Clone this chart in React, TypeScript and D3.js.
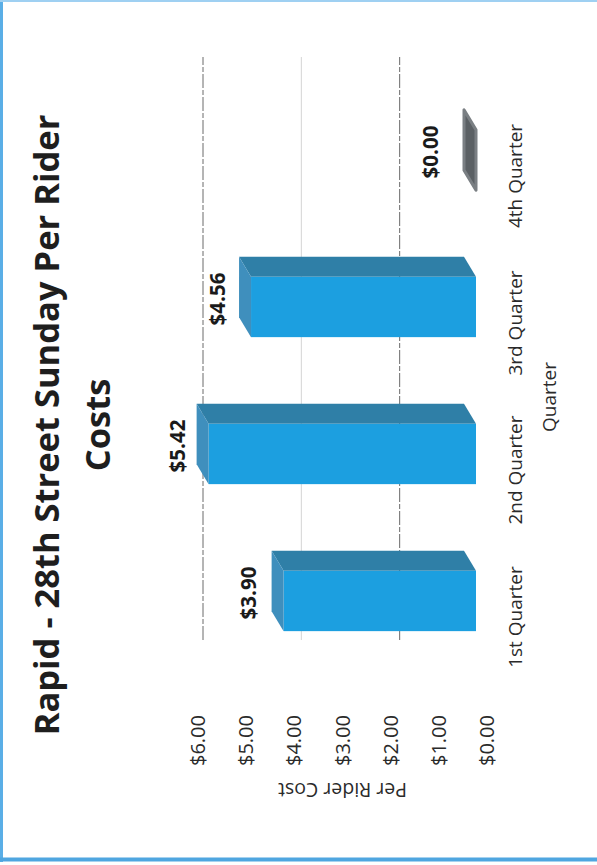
import React from "react";
import * as d3 from "d3";

const categories = ["1st Quarter", "2nd Quarter", "3rd Quarter", "4th Quarter"];
const values = [3.9, 5.42, 4.56, 0.0];
const yTicks = [0, 1, 2, 3, 4, 5, 6];
const gridValues = [2, 4, 6];
const titleLines = ["Rapid - 28th Street Sunday Per Rider", "Costs"];
const xAxisTitle = "Quarter";
const yAxisTitle = "Per Rider Cost";

const PAGE_W = 597;
const PAGE_H = 865;
// chart is drawn in its own (unrotated) frame: width = PAGE_H, height = PAGE_W
const FONT = "'Open Sans', 'DejaVu Sans', sans-serif";

export default function App() {
  const money = d3.format("$.2f");
  const yAxis = d3.scaleLinear().domain([0, 6]).range([487, 198]);
  const yBar = d3.scaleLinear().domain([0, 6]).range([476, 180]);
  const yGrid = d3.scaleLinear().domain([0, 6]).range([498, 203]);
  const yLabel = d3.scaleLinear().domain([0, 6]).range([438, 158]);
  const x = d3.scaleBand<string>().domain(categories).range([174.5, 762.5]).paddingInner(0.59).paddingOuter(0.295);
  const bw = x.bandwidth();
  const du = 20;
  const dv = -12;
  const shift = 16;

  return (
    <svg
      width={PAGE_W}
      height={PAGE_H}
      style={{ position: "absolute", left: 0, top: 0, background: "#fff" }}
    >
      <rect x={0} y={0} width={PAGE_W} height={PAGE_H} fill="#fff" />
      {/* page border */}
      <line x1={1.5} y1={0} x2={1.5} y2={862} stroke="#5aaee6" strokeWidth={3} />
      <line x1={0} y1={1} x2={PAGE_W} y2={1} stroke="#9fd0f2" strokeWidth={2} />
      <line x1={0} y1={859.5} x2={PAGE_W} y2={859.5} stroke="#4fa6e0" strokeWidth={4} />
      <g transform={`translate(0,${PAGE_H}) rotate(-90)`} fontFamily={FONT}>
        {/* title */}
        {titleLines.map((t, i) => (
          <text
            key={t}
            x={440}
            y={59 + i * 51}
            textAnchor="middle"
            fontWeight="bold"
            fontSize={34.5}
            fill="#1e1e1e"
          >
            {t}
          </text>
        ))}
        {/* gridlines (back wall) */}
        {gridValues.map((g) => (
          <line
            key={g}
            x1={225}
            x2={808}
            y1={yGrid(g)}
            y2={yGrid(g)}
            stroke={g === 4 ? "#d4d4d4" : "#6a6a6a"}
            strokeWidth={1}
            strokeDasharray={g === 4 ? "none" : "14 2 5 2"}
          />
        ))}
        {/* y tick labels */}
        {yTicks.map((t) => (
          <text
            key={t}
            x={150}
            y={yAxis(t)}
            dy="0.35em"
            textAnchor="end"
            fontSize={20}
            fill="#2a2a2a"
          >
            {money(t)}
          </text>
        ))}
        <text
          transform={`translate(82,${(yAxis(0) + yAxis(6)) / 2}) rotate(-90)`}
          textAnchor="middle"
          fontSize={19.5}
          fill="#2a2a2a"
        >
          {yAxisTitle}
        </text>
        {/* bars */}
        {categories.map((c, i) => {
          const bx = (x(c) as number) + shift;
          const base = yBar(0);
          const top = yBar(values[i]);
          const zero = values[i] === 0;
          const topFace = `${bx},${top} ${bx + bw},${top} ${bx + bw + du},${top + dv} ${bx + du},${top + dv}`;
          const sideFace = `${bx + bw},${base} ${bx + bw + du},${base + dv} ${bx + bw + du},${top + dv} ${bx + bw},${top}`;
          return (
            <g key={c}>
              {!zero && (
                <>
                  <polygon points={sideFace} fill="#2f7fa7" />
                  <rect x={bx} y={top} width={bw} height={base - top} fill="#1c9fe0" />
                  <polygon points={topFace} fill="#3f8fbd" />
                </>
              )}
              {zero && (
                <polygon points={topFace} fill="#5b6064" stroke="#7a7f83" strokeWidth={3} strokeLinejoin="round" />
              )}
              <text
                x={bx + bw / 2 + 8}
                y={yLabel(values[i])}
                textAnchor="middle"
                fontWeight="bold"
                fontSize={20.5}
                fill="#1a1a1a"
              >
                {money(values[i])}
              </text>
            </g>
          );
        })}
        {/* category labels */}
        {categories.map((c) => (
          <text
            key={c}
            x={(x(c) as number) + bw / 2}
            y={522}
            textAnchor="middle"
            fontSize={19}
            fill="#2a2a2a"
          >
            {c}
          </text>
        ))}
        <text x={468} y={556} textAnchor="middle" fontSize={19} fill="#2a2a2a">
          {xAxisTitle}
        </text>
      </g>
    </svg>
  );
}
